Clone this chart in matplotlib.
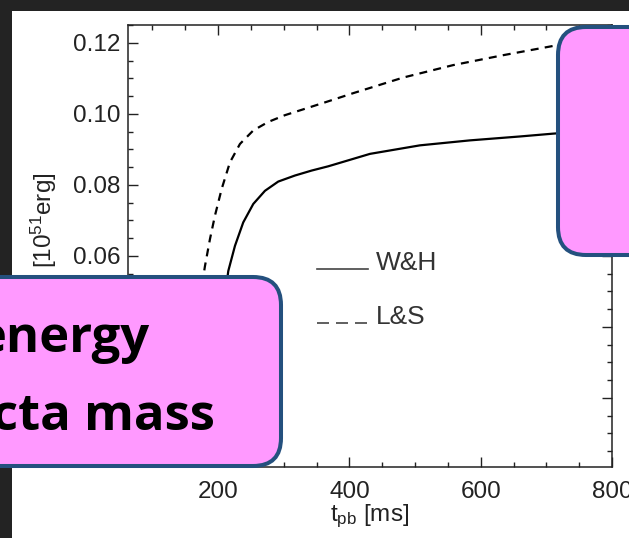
import numpy as np
from matplotlib import pyplot as plt
from matplotlib import ticker
from matplotlib.legend_handler import HandlerLine2D
from matplotlib.lines import Line2D
from matplotlib.patches import FancyBboxPatch, Rectangle
from matplotlib.transforms import IdentityTransform

# values (t_pb in ms, energy in 1e51 erg)
t_wh = [190, 200, 208, 215.5, 225.7, 238.3, 253.6, 271.4, 291.6, 317, 342.5, 367.8,
        431.3, 507.4, 583.5, 659.7, 710.4, 800]
e_wh = [0.0, 0.030, 0.045, 0.0557, 0.0628, 0.0694, 0.0746, 0.0783, 0.0809, 0.0826, 0.0840, 0.0852,
        0.0887, 0.0911, 0.0925, 0.0936, 0.0944, 0.0956]

t_ls = [155, 165, 174, 180, 187.6, 195.2, 205.4, 218, 233.3, 253.6, 276.4, 301.8, 332.3, 362.7,
        405.8, 482, 558, 634.3, 710.4, 800]
e_ls = [0.0, 0.030, 0.050, 0.0571, 0.0647, 0.0713, 0.0788, 0.0863, 0.0915, 0.0953, 0.0977, 0.0996,
        0.1014, 0.1032, 0.1058, 0.1102, 0.1137, 0.1165, 0.1191, 0.1218]

labels = ["W&H", "L&S"]
box_texts = ["energy", "cta mass"]

W, H = 629, 538
ink = "#222222"
pink = "#FF99FF"
edge = "#24507E"

plt.rcParams["font.family"] = ["Liberation Sans", "DejaVu Sans"]
plt.rcParams["mathtext.default"] = "regular"


class BaselineLine(HandlerLine2D):
    """legend sample drawn on the text baseline, like the IDL legend"""

    def create_artists(self, legend, orig_handle, xdescent, ydescent, width, height, fontsize, trans):
        artists = super().create_artists(legend, orig_handle, xdescent, ydescent, width, height,
                                         fontsize, trans)
        for a in artists:
            a.set_ydata(np.full(len(a.get_xdata()), 0.04 * fontsize))
        return artists


def ylabel_fmt(v, pos):
    # labels under the pink box are not visible in the slide
    return "" if v < 0.05 else f"{v:.2f}"


fig = plt.figure(figsize=(W / 100, H / 100), dpi=100, facecolor="#232323")
px = IdentityTransform()

# white slide area (dark strip on the left and top)
fig.add_artist(Rectangle((12, 0), 700, H - 11, transform=px, facecolor="white",
                         edgecolor="none", zorder=-10))

ax = fig.add_axes([127.5 / W, 1 - 467 / H, (612 - 127.5) / W, (467 - 25) / H])
ax.plot(t_wh, e_wh, color="black", lw=1.6, solid_capstyle="butt")
ax.plot(t_ls, e_ls, color="black", lw=1.6, linestyle=(0, (3.6, 2.8)))

ax.set_xlim(62, 800)
ax.set_ylim(0.0005, 0.125)
ax.xaxis.set_major_locator(ticker.MultipleLocator(200))
ax.xaxis.set_minor_locator(ticker.MultipleLocator(50))
ax.yaxis.set_major_locator(ticker.MultipleLocator(0.02))
ax.yaxis.set_minor_locator(ticker.MultipleLocator(0.005))
ax.yaxis.set_major_formatter(ticker.FuncFormatter(ylabel_fmt))
ax.tick_params(which="both", direction="in", top=True, right=True, width=1.0, color=ink,
               labelsize=17.5, labelcolor=ink)
ax.tick_params(which="major", length=7.5)
ax.tick_params(which="minor", length=3.8)
ax.tick_params(axis="x", pad=10)
ax.tick_params(axis="y", pad=5)
for sp in ax.spines.values():
    sp.set_linewidth(1.1)
    sp.set_color(ink)

ax.set_xlabel("t$_{pb}$ [ms]", fontsize=17.5, color=ink)
ax.xaxis.set_label_coords(0.5, -0.08)
fig.text(44, H - 172, "[10$^{51}$erg]", transform=px, rotation=90, ha="center", va="top",
         fontsize=17.5, color=ink)

handles = [Line2D([], [], color="#444444", lw=1.2),
           Line2D([], [], color="#444444", lw=1.2, linestyle=(0, (7.2, 4.2)))]
ax.legend(handles, labels, loc="upper left", bbox_to_anchor=(317 / W, 1 - 251 / H),
          bbox_transform=fig.transFigure, frameon=False, fontsize=19, borderpad=0,
          borderaxespad=0, handlelength=1.95, handletextpad=0.27, labelspacing=1.12,
          labelcolor="#333333", handler_map={Line2D: BaselineLine()})

# pink call-out boxes lying over the plot
fig.add_artist(FancyBboxPatch((-40, 72), 321, 189, boxstyle="round,pad=0,rounding_size=28",
                              transform=px, facecolor=pink, edgecolor=edge, lw=2.9, zorder=10))
fig.add_artist(FancyBboxPatch((558, 283), 150, 228, boxstyle="round,pad=0,rounding_size=28",
                              transform=px, facecolor=pink, edgecolor=edge, lw=2.9, zorder=10))
fig.text(150, H - 352, box_texts[0], transform=px, ha="right", va="baseline", fontsize=36.5,
         family="Open Sans", weight="bold", color="black", zorder=11)
fig.text(215, H - 430, box_texts[1], transform=px, ha="right", va="baseline", fontsize=36.5,
         family="Open Sans", weight="bold", color="black", zorder=11)

fig.savefig("out.png", dpi=100, facecolor=fig.get_facecolor())
